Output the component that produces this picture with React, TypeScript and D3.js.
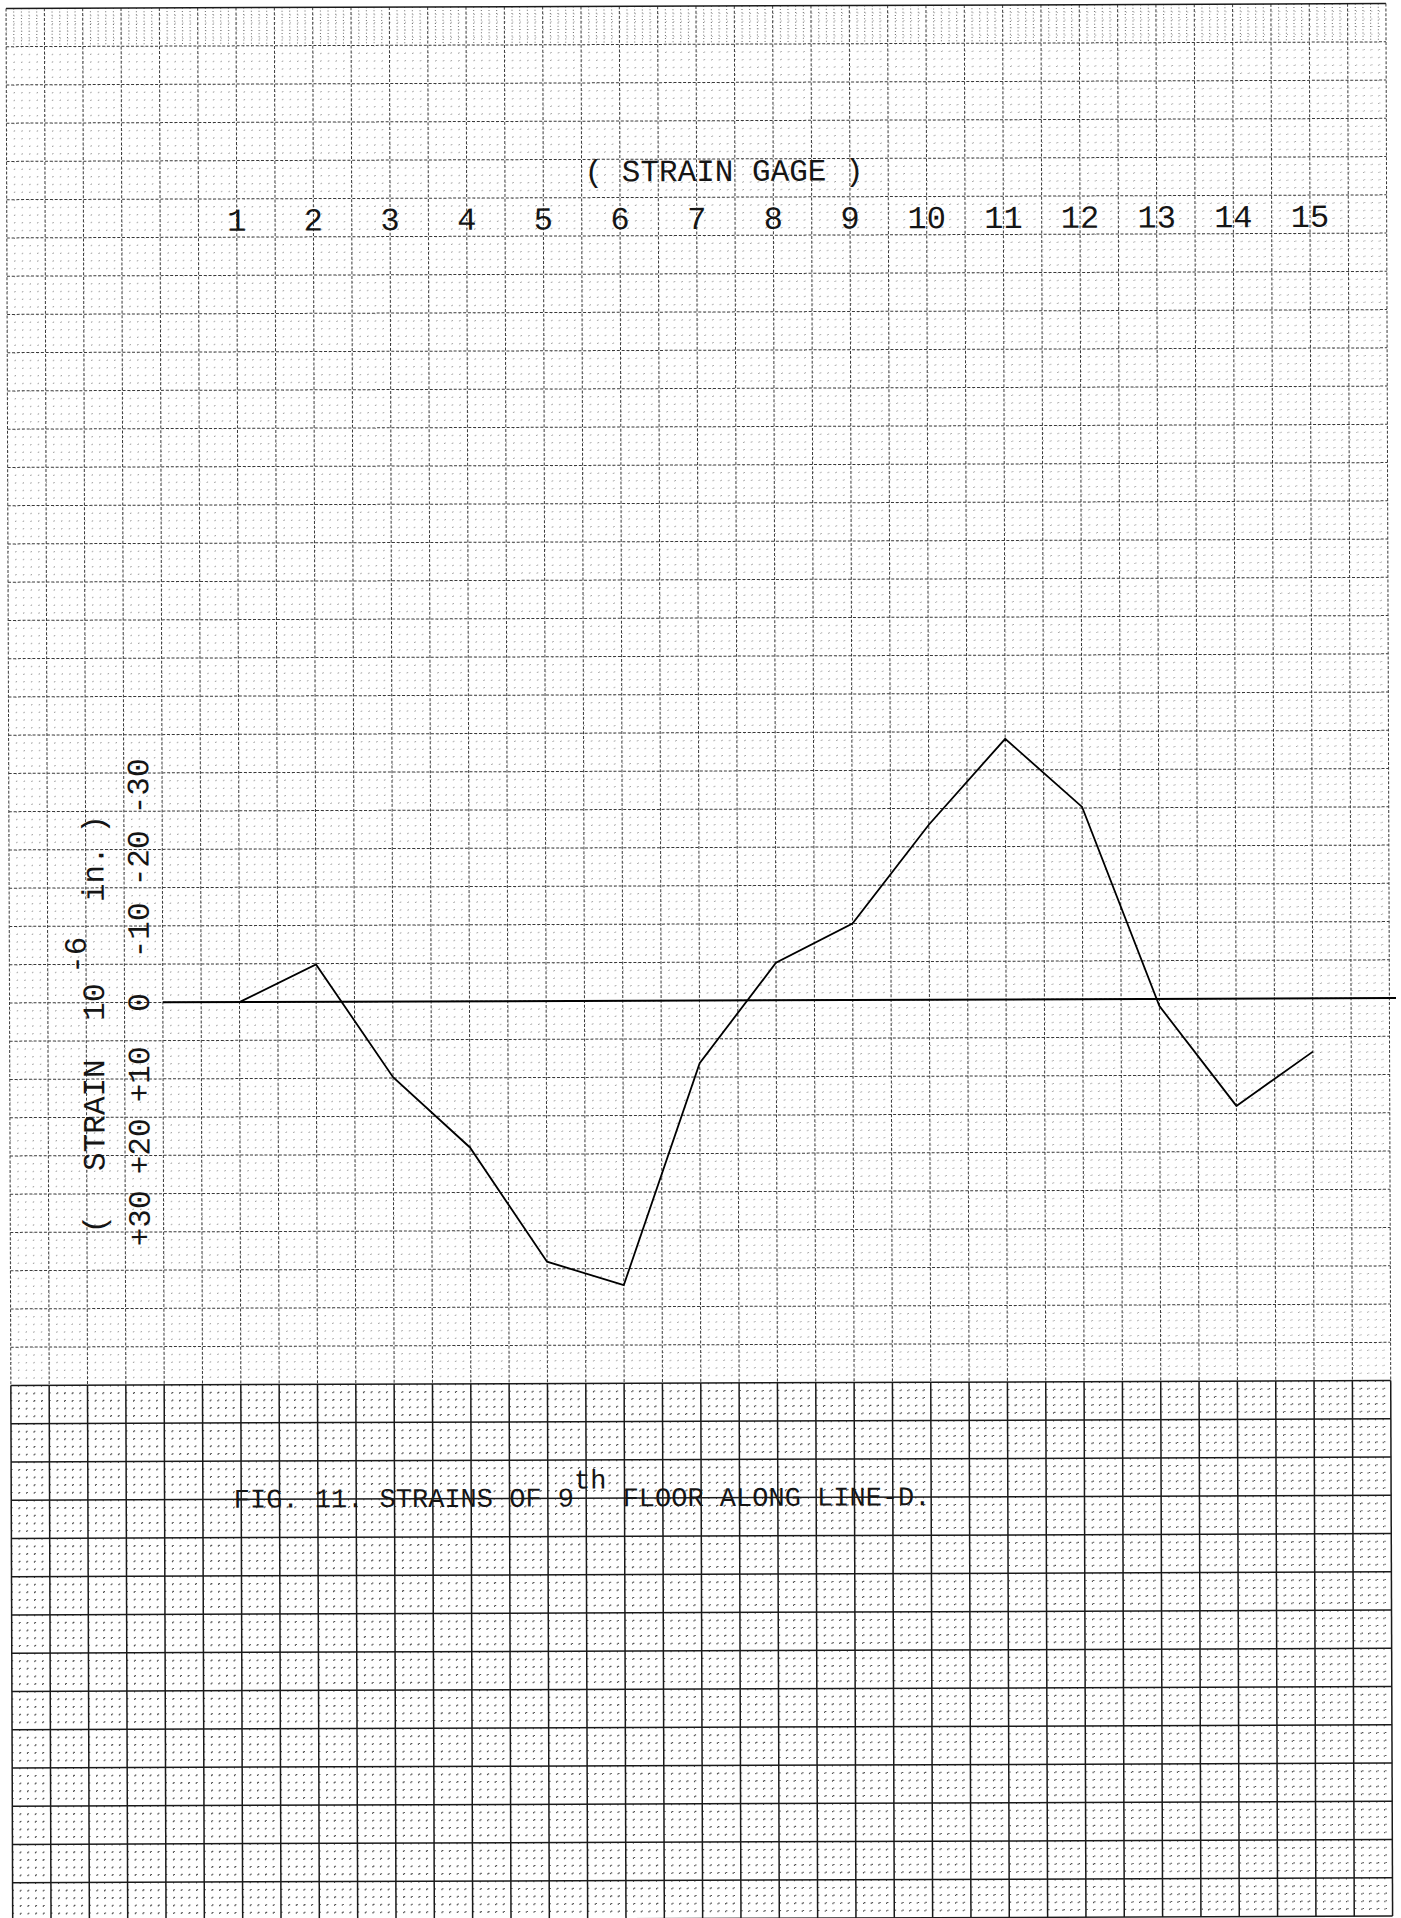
import React from "react";
import * as d3 from "d3";

// Strain gages along line D, 9th floor
const gageNumbers = [1, 2, 3, 4, 5, 6, 7, 8, 9, 10, 11, 12, 13, 14, 15];
// strain in 10^-6 in. (positive plotted below the zero line)
const strainValues = [0, -5.2, 10.5, 20.3, 36.2, 39.5, 8.7, -5.2, -10.6, -24.3, -36.2, -26.7, 1.0, 14.9, 7.4];
const strainTicks = [30, 20, 10, 0, -10, -20, -30];
const strainTickLabels = ["+30", "+20", "+10", "0", "-10", "-20", "-30"];

const W = 1401;
const H = 1918;

// graph paper
const CELL_X = 38.33;
const CELL_Y = 38.25;
const SUB = 5;
const GRID_LEFT = 9.5;
const GRID_TOP = 6;
const COLS = 36;
const ROWS = 50;
const GRID_RIGHT = GRID_LEFT + COLS * CELL_X;
const GRID_BOTTOM = GRID_TOP + ROWS * CELL_Y;
const ZERO_ROW = 26;
const DARK_ROW = 36;
const zeroY = GRID_TOP + ZERO_ROW * CELL_Y;

const FONT = "'Liberation Mono', 'DejaVu Sans Mono', monospace";
const INK = "#151515";

const x = d3.scaleLinear().domain([1, 15]).range([GRID_LEFT + 6 * CELL_X, GRID_LEFT + 34 * CELL_X]);
const y = d3.scaleLinear().domain([0, 10]).range([zeroY, zeroY + 72]);

const strainLine = d3
  .line<number>()
  .x((_, i) => x(gageNumbers[i]))
  .y((d) => y(d));

// pieces of the rotated strain-axis title: text, centre along the axis, raised?
const axisTitleParts: [string, number, boolean][] = [
  ["(", 1222, false],
  ["STRAIN", 1113, false],
  ["10", 1000, false],
  ["-6", 953, true],
  ["in.", 872, false],
  [")", 822, false],
];

export default function App() {
  const colIdx = d3.range(COLS * SUB + 1);
  const rowIdx = d3.range(ROWS * SUB + 1);
  const darkY = GRID_TOP + DARK_ROW * CELL_Y;
  const topRowY = GRID_TOP + CELL_Y;

  return (
    <svg
      width={W}
      height={H}
      viewBox={`0 0 ${W} ${H}`}
      style={{ position: "absolute", left: 0, top: 0, display: "block", background: "#fff" }}
    >
      <rect x={0} y={0} width={W} height={H} fill="#fff" />
      <g transform="rotate(-0.2 700 1000)">
        {/* minor rulings */}
        <g>
          {colIdx
            .filter((k) => k % SUB !== 0)
            .map((k) => {
              const xx = GRID_LEFT + (k * CELL_X) / SUB;
              return (
                <g key={"mv" + k}>
                  <line x1={xx} x2={xx} y1={GRID_TOP} y2={topRowY} stroke="#6a6a6a" strokeWidth={1} strokeDasharray="1 2.2" />
                  <line x1={xx} x2={xx} y1={topRowY} y2={darkY} stroke="#a8a8a8" strokeWidth={1} strokeDasharray="1 6.65" />
                  <line x1={xx} x2={xx} y1={darkY} y2={GRID_BOTTOM} stroke="#555" strokeWidth={1.1} strokeDasharray="1.4 6.25" />
                </g>
              );
            })}
          {rowIdx
            .filter((k) => k % SUB !== 0)
            .map((k) => {
              const yy = GRID_TOP + (k * CELL_Y) / SUB;
              const dark = yy > darkY;
              return (
                <line
                  key={"mh" + k}
                  x1={GRID_LEFT}
                  x2={GRID_RIGHT}
                  y1={yy}
                  y2={yy}
                  stroke={dark ? "#555" : "#a8a8a8"}
                  strokeWidth={dark ? 1.1 : 1}
                  strokeDasharray={dark ? "1.4 6.27" : "1 6.67"}
                />
              );
            })}
        </g>
        {/* major rulings */}
        <g>
          {d3.range(COLS + 1).map((k) => {
            const xx = GRID_LEFT + k * CELL_X;
            return (
              <g key={"Mv" + k}>
                <line x1={xx} x2={xx} y1={GRID_TOP} y2={darkY} stroke="#3a3a3a" strokeWidth={1} strokeDasharray="3 1.8" />
                <line x1={xx} x2={xx} y1={darkY} y2={GRID_BOTTOM} stroke="#1a1a1a" strokeWidth={1.5} />
              </g>
            );
          })}
          {d3.range(ROWS + 1).map((k) => {
            const yy = GRID_TOP + k * CELL_Y;
            const dark = k >= DARK_ROW || k === 0;
            return (
              <line
                key={"Mh" + k}
                x1={GRID_LEFT}
                x2={GRID_RIGHT}
                y1={yy}
                y2={yy}
                stroke={dark ? "#1a1a1a" : "#3a3a3a"}
                strokeWidth={dark ? 1.5 : 1}
                strokeDasharray={dark ? undefined : "3 1.8"}
              />
            );
          })}
        </g>

        {/* gage axis */}
        <text x={727} y={181} fontFamily={FONT} fontSize={31} textAnchor="middle" fill={INK}>
          ( STRAIN GAGE )
        </text>
        {gageNumbers.map((g) => (
          <text key={"g" + g} x={x(g)} y={229} fontFamily={FONT} fontSize={32} textAnchor="middle" fill={INK}>
            {g}
          </text>
        ))}

        {/* strain axis */}
        {strainTicks.map((t, i) => (
          <text
            key={"t" + t}
            x={0}
            y={0}
            transform={`translate(149 ${y(t)}) rotate(-90)`}
            fontFamily={FONT}
            fontSize={31}
            textAnchor="middle"
            fill={INK}
          >
            {strainTickLabels[i]}
          </text>
        ))}
        {axisTitleParts.map(([s, pos, raised]) => (
          <text
            key={"at" + s}
            x={0}
            y={0}
            transform={`translate(${raised ? 86 : 104} ${pos}) rotate(-90)`}
            fontFamily={FONT}
            fontSize={31}
            textAnchor="middle"
            fill={INK}
          >
            {s}
          </text>
        ))}

        {/* zero line and strain profile */}
        <line x1={163} x2={1396} y1={zeroY} y2={zeroY} stroke="#000" strokeWidth={2} />
        <path d={strainLine(strainValues) ?? ""} fill="none" stroke="#000" strokeWidth={1.8} strokeLinejoin="miter" />

        {/* caption */}
        <text x={232} y={1506} fontFamily={FONT} fontSize={27} fill={INK} xmlSpace="preserve">
          FIG. 11. STRAINS OF 9
          <tspan dy={-18}>th</tspan>
          <tspan dy={18}> FLOOR ALONG LINE-D.</tspan>
        </text>
      </g>
    </svg>
  );
}
